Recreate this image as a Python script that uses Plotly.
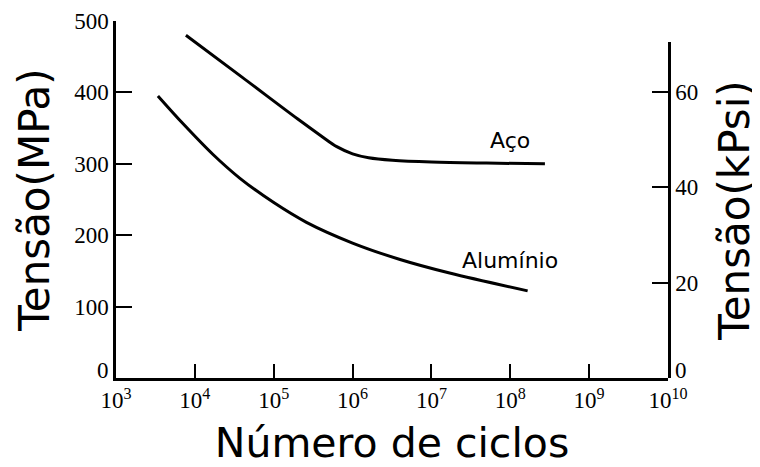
import plotly.graph_objects as go

# curvas S-N
aco_ciclos = [7.7e3, 4.0e4, 2.0e5, 4.0e5, 6.3e5, 1.0e6, 1.6e6, 3.2e6, 1.0e7, 5.0e7, 2.75e8]
aco_tensao = [480, 421, 363, 339, 324, 314, 308.5, 305, 302.5, 301, 300]

alu_ciclos = [3.4e3, 7.1e3, 1.7e4, 3.7e4, 9.9e4, 2.6e5, 1.0e6, 4.0e6, 1.7e7, 1.66e8]
alu_tensao = [395, 356, 313, 280, 246, 218, 189, 166, 147, 122]

x_ticks = [1e3, 1e4, 1e5, 1e6, 1e7, 1e8, 1e9, 1e10]
x_labels = ['10<sup>%d</sup>' % e for e in range(3, 11)]
mpa_ticks = [100, 200, 300, 400, 500]
kpsi_ticks = [20, 40, 60]
mpa_to_kpsi = 0.145038

serif = dict(family='Liberation Serif, Times New Roman, serif', size=23, color='black')
sans = 'DejaVu Sans, Verdana, sans-serif'

fig = go.Figure()
fig.add_trace(go.Scatter(x=aco_ciclos, y=aco_tensao, mode='lines', line_shape='spline',
                         line=dict(color='black', width=3), hoverinfo='skip'))
fig.add_trace(go.Scatter(x=alu_ciclos, y=alu_tensao, mode='lines', line_shape='spline',
                         line=dict(color='black', width=3), hoverinfo='skip'))
# eixo secundario em kPsi (traco invisivel so para ativar o eixo)
fig.add_trace(go.Scatter(x=aco_ciclos, y=[v * mpa_to_kpsi for v in aco_tensao], yaxis='y2',
                         mode='lines', line=dict(color='rgba(0,0,0,0)'), hoverinfo='skip'))

fig.add_annotation(x=8.0, y=333, text='Aço', showarrow=False, font=dict(family=sans, size=22, color='black'))
fig.add_annotation(x=8.0, y=165, text='Alumínio', showarrow=False, font=dict(family=sans, size=22, color='black'))
# os zeros ficam um pouco acima do eixo x, como no original
fig.add_annotation(xref='paper', x=0, yref='y', y=0, text='0', showarrow=False, font=serif,
                   xanchor='right', xshift=-5, yshift=8)
fig.add_annotation(xref='paper', x=1, yref='y', y=0, text='0', showarrow=False, font=serif,
                   xanchor='left', xshift=5, yshift=8)

# a pagina tem 8px de margem no body, por isso 752x459
fig.update_layout(
    width=752, height=459,
    margin=dict(l=108, r=92, t=13, b=89),
    paper_bgcolor='white', plot_bgcolor='rgba(0,0,0,0)',
    showlegend=False,
    xaxis=dict(type='log', range=[3, 10], tickvals=x_ticks, ticktext=x_labels, automargin=False,
               showgrid=False, zeroline=False, showline=True, linecolor='black', linewidth=2.5,
               ticks='inside', ticklen=14, tickwidth=2, tickcolor='black', tickfont=serif,
               title=dict(text='Número de ciclos', font=dict(family=sans, size=41, color='black'), standoff=20)),
    yaxis=dict(range=[0, 500], tickvals=mpa_ticks, showgrid=False, zeroline=False, automargin=False,
               showline=True, linecolor='black', linewidth=2.5,
               ticks='inside', ticklen=16, tickwidth=2, tickcolor='black', tickfont=serif,
               title=dict(text='Tensão(MPa)', font=dict(family=sans, size=42, color='black'), standoff=12)),
    yaxis2=dict(range=[0, 70.5], domain=[0, 0.941], anchor='x', side='right', tickvals=kpsi_ticks,
                automargin=False, showgrid=False, zeroline=False, showline=True, linecolor='black', linewidth=2.5,
                ticks='inside', ticklen=16, tickwidth=2, tickcolor='black', tickfont=serif,
                title=dict(text='Tensão(kPsi)', font=dict(family=sans, size=42, color='black'), standoff=23)),
)

fig.write_html('out.html')
